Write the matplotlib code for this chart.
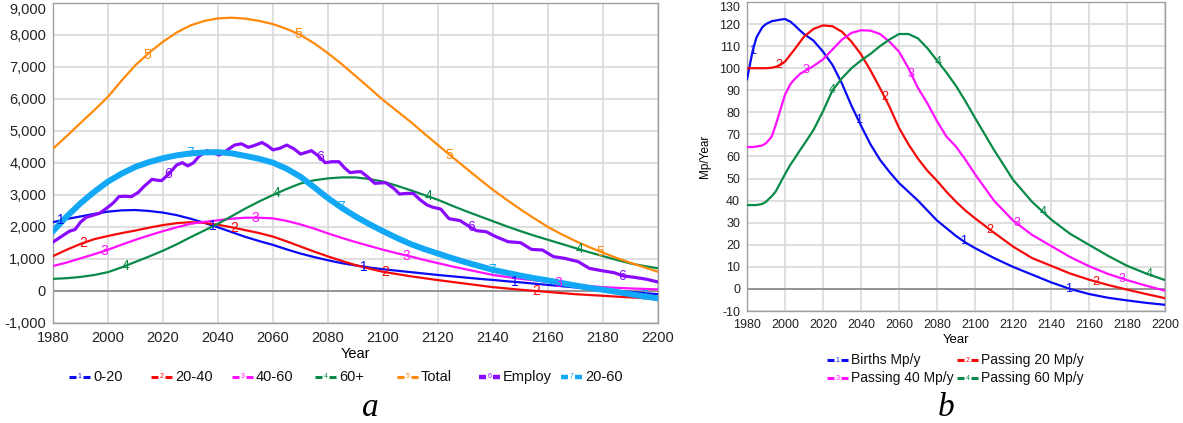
import numpy as np
import matplotlib
matplotlib.use("Agg")
import matplotlib.pyplot as plt
from matplotlib.lines import Line2D

plt.rcParams['font.family'] = ['Liberation Sans', 'DejaVu Sans']
plt.rcParams['axes.unicode_minus'] = False

# ---- panel a : population by age group (millions) ----
yrs = list(range(1980, 2201, 5))

age_0_20 = [2150, 2250, 2330, 2410, 2480, 2520, 2530, 2500, 2450, 2370, 2260, 2130, 1990,
            1840, 1690, 1560, 1440, 1300, 1170, 1060, 960, 870, 800, 735, 680, 635, 590,
            545, 500, 460, 420, 380, 345, 305, 270, 230, 190, 150, 110, 75, 40, 5, -30,
            -65, -100]
age_20_40 = [1090, 1290, 1470, 1620, 1720, 1810, 1890, 1980, 2060, 2120, 2150, 2130, 2070,
             1990, 1900, 1810, 1700, 1550, 1390, 1230, 1080, 940, 810, 700, 600, 530, 460,
             400, 340, 285, 230, 175, 120, 80, 40, 5, -30, -65, -100, -125, -150, -175,
             -200, -225, -250]
age_40_60 = [780, 890, 1020, 1150, 1290, 1450, 1600, 1740, 1870, 1990, 2100, 2160, 2210,
             2260, 2290, 2290, 2270, 2190, 2080, 1950, 1800, 1660, 1530, 1410, 1290, 1180,
             1080, 970, 870, 770, 680, 590, 500, 440, 380, 335, 290, 240, 190, 155, 120,
             100, 80, 65, 50]
age_60_plus = [380, 400, 440, 500, 590, 740, 910, 1080, 1260, 1460, 1680, 1890, 2100, 2340,
               2580, 2800, 3000, 3190, 3360, 3460, 3520, 3550, 3550, 3500, 3420, 3290, 3150,
               3000, 2850, 2670, 2500, 2340, 2180, 2020, 1870, 1730, 1600, 1470, 1340, 1210,
               1090, 970, 860, 780, 710]
total = [4450, 4840, 5250, 5650, 6070, 6580, 7060, 7450, 7790, 8080, 8300, 8440, 8520, 8540,
         8510, 8440, 8340, 8190, 8000, 7740, 7430, 7090, 6720, 6350, 5970, 5630, 5290, 4920,
         4560, 4200, 3850, 3500, 3160, 2850, 2550, 2270, 2000, 1770, 1560, 1370, 1200, 1030,
         880, 740, 600]
age_20_60 = [1870, 2330, 2740, 3100, 3420, 3670, 3880, 4030, 4150, 4240, 4300, 4330, 4340,
             4300, 4220, 4130, 4010, 3820, 3570, 3240, 2900, 2600, 2330, 2090, 1870, 1660,
             1470, 1310, 1170, 1030, 900, 780, 660, 570, 480, 400, 330, 250, 170, 100, 40,
             -30, -100, -170, -230]

employ_yrs = [1980, 1983, 1986, 1988, 1990, 1992, 1995, 1997, 2000, 2002, 2004, 2006,
              2008.5, 2011, 2013, 2016, 2018, 2019.5, 2022, 2025, 2027, 2029, 2031, 2033,
              2036, 2038, 2040.5, 2043, 2046, 2048.5, 2051, 2053, 2056, 2058, 2060, 2062.5,
              2065, 2067.5, 2070, 2072, 2074, 2076.5, 2079, 2081.5, 2084, 2086, 2088, 2090,
              2092, 2094.5, 2097, 2099, 2101, 2104, 2106, 2108.5, 2111, 2113.5, 2116, 2118,
              2121, 2124, 2128, 2131.5, 2134, 2137.5, 2141, 2145.5, 2150, 2154, 2158, 2162,
              2166, 2171, 2175, 2179.5, 2184, 2187.5, 2191.5, 2196, 2200]
employ = [1530, 1700, 1870, 1920, 2150, 2300, 2380, 2430, 2620, 2760, 2950, 2960,
          2950, 3080, 3260, 3490, 3460, 3450, 3650, 3940, 4010, 3910, 4000, 4200,
          4390, 4320, 4250, 4380, 4560, 4600, 4490, 4540, 4640, 4540, 4410, 4460,
          4560, 4450, 4280, 4330, 4385, 4220, 4010, 4040, 4040, 3850, 3700, 3720,
          3730, 3560, 3365, 3375, 3385, 3200, 3030, 3050, 3050, 2850, 2690, 2620,
          2560, 2260, 2200, 2010, 1885, 1854, 1700, 1540, 1510, 1300, 1280, 1073,
          1021, 917, 708, 635, 573, 469, 427, 365, 280]

# ---- panel b : flows in millions per year ----
yrs_b = [1980, 1983, 1985, 1988, 1990, 1993, 1995, 1997.5, 2000, 2003, 2005, 2008, 2010,
         2015, 2020, 2025, 2030, 2035, 2040, 2045, 2050, 2055, 2060, 2065, 2070, 2075,
         2080, 2085, 2090, 2095, 2100, 2110, 2120, 2130, 2140, 2150, 2160, 2170, 2180,
         2190, 2200]
births = [95, 108, 114, 118.5, 120, 121.3, 121.6, 122, 122.3, 121, 119.5, 117, 115.5,
          112.5, 107.5, 101.5, 93, 83, 74, 65.5, 58.5, 53, 48, 44, 40, 35.5,
          31, 27.5, 24, 21, 18.5, 14, 10, 6.5, 3, 0, -2.3, -4, -5.2, -6.3, -7.2]
pass_20 = [100, 100, 100, 100, 100, 100.2, 100.6, 101.5, 103, 106.3, 108.5, 112, 114.3,
           117.8, 119.4, 119, 116.5, 112, 106.3, 99, 91, 82.5, 73, 65.5, 59, 53.5,
           49, 44, 39.5, 35.5, 32, 25.5, 19.2, 14, 10.5, 7, 4.2, 1.8, -0.3, -2.3, -4.2]
pass_40 = [64.3, 64.3, 64.5, 65, 66, 69, 74, 81, 88, 93, 95, 97.5, 98.5,
           101, 104, 108.5, 113, 116, 117.2, 117, 115.5, 112, 107.5, 100, 91, 84,
           76, 69, 64.5, 58.5, 52, 40, 31, 24.5, 19.5, 14.5, 10.3, 6.8, 4, 1.5, -0.8]
pass_60 = [38, 38, 38, 38.5, 39.5, 42, 44, 48, 52, 56.5, 59, 63, 65.5,
           72, 80.5, 90, 95.5, 100, 103.5, 106.5, 110, 113, 115.5, 115.5, 113.5, 109,
           103.5, 98, 92, 85, 77.5, 63, 49.5, 39.5, 31.5, 25, 20, 15, 10.5, 7, 4]

names_a = ['0-20', '20-40', '40-60', '60+', 'Total', 'Employ', '20-60']
names_b = ['Births Mp/y', 'Passing 20 Mp/y', 'Passing 40 Mp/y', 'Passing 60 Mp/y']

BLUE = '#0a0af5'
RED = '#f50a0a'
MAG = '#ff10ff'
GREEN = '#0a8a48'
ORANGE = '#ff8a0a'
PURPLE = '#8a0aff'
SKY = '#12a8f5'

W, H = 1183, 423
fig = plt.figure(figsize=(W / 100, H / 100), dpi=100)


def fx(px):
    return px / W


def fy(py):
    return 1 - py / H


def style_axes(ax, xticks, yticks, ylabels, fs_x, fs_y):
    ax.set_xlim(xticks[0], xticks[-1])
    ax.set_ylim(yticks[0], yticks[-1])
    ax.set_xticks(xticks)
    ax.set_xticklabels([str(t) for t in xticks])
    ax.set_yticks(yticks)
    ax.set_yticklabels(ylabels)
    ax.grid(True, color='#d6d6d6', lw=1.1)
    ax.set_axisbelow(True)
    for s in ax.spines.values():
        s.set_color('#a0a0a0')
        s.set_linewidth(1.0)
    ax.axhline(0, color='#888888', lw=1.2, zorder=1)
    ax.tick_params(length=0, colors='#222222')
    ax.tick_params(axis='x', labelsize=fs_x, pad=6)
    ax.tick_params(axis='y', labelsize=fs_y, pad=5)
    # keep the top tick label inside the figure
    ax.get_yticklabels()[-1].set_verticalalignment('top')


def tag_line(ax, x, y, years, digit, color, fs=10):
    for yr in years:
        ax.text(yr, np.interp(yr, x, y), digit, color=color, fontsize=fs,
                ha='center', va='center', zorder=6)


def key(x, y, color, digit, label, lw=2.2, fs=10.5):
    fig.add_artist(Line2D([fx(x), fx(x + 7)], [fy(y), fy(y)], color=color, lw=lw,
                          transform=fig.transFigure, solid_capstyle='butt'))
    fig.add_artist(Line2D([fx(x + 14), fx(x + 21)], [fy(y), fy(y)], color=color, lw=lw,
                          transform=fig.transFigure, solid_capstyle='butt'))
    fig.text(fx(x + 10.5), fy(y), digit, color=color, fontsize=5, ha='center', va='center')
    fig.text(fx(x + 24), fy(y), label, fontsize=fs, ha='left', va='center', color='#111111')


year_ticks = list(range(1980, 2201, 20))

# ---------------- panel a ----------------
ax1 = fig.add_axes([fx(53), fy(323), fx(658) - fx(53), fy(3) - fy(323)])
ya = list(range(-1000, 9001, 1000))
style_axes(ax1, year_ticks, ya, [f'{v:,}' for v in ya], 10.5, 10.5)

series_a = [(yrs, age_0_20, BLUE, 1.6), (yrs, age_20_40, RED, 1.6),
            (yrs, age_40_60, MAG, 1.6), (yrs, age_60_plus, GREEN, 1.6),
            (yrs, total, ORANGE, 1.6), (employ_yrs, employ, PURPLE, 2.3),
            (yrs, age_20_60, SKY, 4.3)]
for k, (x, y, c, lw) in enumerate(series_a):
    ax1.plot(x, y, color=c, lw=lw, zorder=3 + k * 0.1, solid_joinstyle='round')
    first = 1983 + 7.8 * k
    tag_line(ax1, x, y, [first + 55 * j for j in range(4)], str(k + 1), c)

fig.text(fx(355), fy(354), 'Year', fontsize=10.5, ha='center', va='center')
key_x = [69, 151, 232, 315, 397, 479, 561]
for k, (nm, (x, y, c, lw)) in enumerate(zip(names_a, series_a)):
    key(key_x[k], 377, c, str(k + 1), nm, lw=3.2 if k >= 5 else 2.2)
fig.text(fx(370), fy(408), 'a', fontsize=24, ha='center', va='center', style='italic',
         family=['Liberation Serif', 'DejaVu Serif'])

# ---------------- panel b ----------------
ax2 = fig.add_axes([fx(747), fy(311), fx(1165) - fx(747), fy(2) - fy(311)])
yb = list(range(-10, 131, 10))
style_axes(ax2, year_ticks, yb, [str(v) for v in yb], 9, 9)
ax2.set_ylabel('Mp/Year', fontsize=8.5, labelpad=6)

series_b = [(births, BLUE), (pass_20, RED), (pass_40, MAG), (pass_60, GREEN)]
for k, (y, c) in enumerate(series_b):
    ax2.plot(yrs_b, y, color=c, lw=1.6, zorder=3, solid_joinstyle='round')
    first = 1983 + 14 * k
    tag_line(ax2, yrs_b, y, [first + 55.5 * j for j in range(4)], str(k + 1), c, fs=9)

fig.text(fx(956), fy(340), 'Year', fontsize=9.5, ha='center', va='center')
pos_b = [(827, 360), (957, 360), (827, 378), (957, 378)]
for k, (nm, (y, c)) in enumerate(zip(names_b, series_b)):
    key(pos_b[k][0], pos_b[k][1], c, str(k + 1), nm, fs=10)
fig.text(fx(946), fy(408), 'b', fontsize=24, ha='center', va='center', style='italic',
         family=['Liberation Serif', 'DejaVu Serif'])

fig.savefig('out.png', dpi=100)
